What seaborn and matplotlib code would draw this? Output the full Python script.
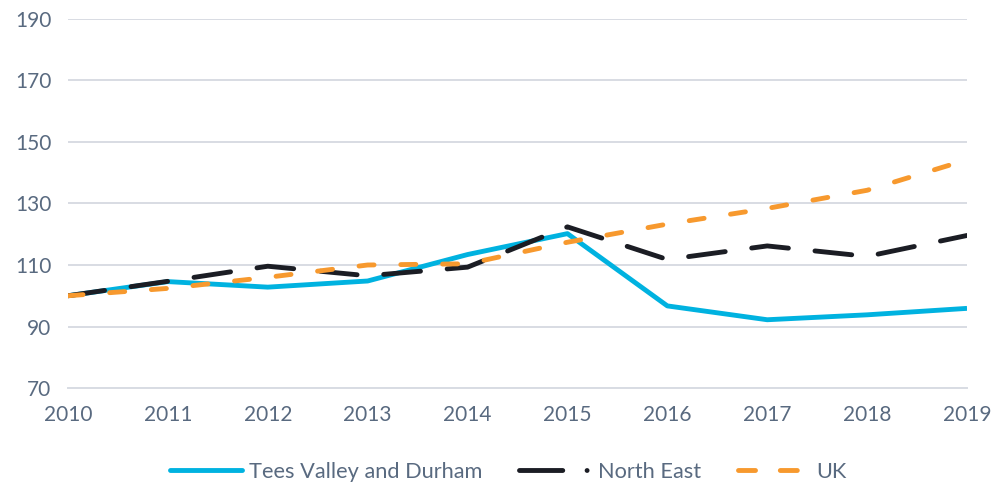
import numpy as np
import pandas as pd
import seaborn as sns
import matplotlib.pyplot as plt
from matplotlib.lines import Line2D

# Daten (Index, 2010 = 100)
YEARS = [2010, 2011, 2012, 2013, 2014, 2015, 2016, 2017, 2018, 2019]
TEES_VALLEY = [100.0, 104.6, 102.8, 104.8, 113.4, 120.2, 96.7, 92.2, 93.8, 95.9]
NORTH_EAST = [100.0, 104.7, 109.6, 106.5, 109.3, 122.4, 111.8, 116.2, 112.8, 119.6]
UK = [100.0, 102.4, 106.0, 110.0, 110.4, 117.4, 123.3, 128.4, 134.3, 144.2]
SERIES = ["Tees Valley and Durham", "North East", "UK"]
Y_TICKS = [70, 90, 110, 130, 150, 170, 190]

COLORS = {"Tees Valley and Durham": "#00B2E0",
          "North East": "#1B1D24",
          "UK": "#F7992E"}
DASHES = {"Tees Valley and Durham": "",
          "North East": (7.6, 5.5),
          "UK": (3.1, 5.5)}
TEXT = "#596A80"
GRID = "#D8DCE3"

df = pd.DataFrame({"Jahr": YEARS * 3,
                   "Wert": TEES_VALLEY + NORTH_EAST + UK,
                   "Serie": [s for s in SERIES for _ in YEARS]})

sns.set_style("white")
plt.rcParams["font.family"] = ["Lato", "DejaVu Sans"]

fig, ax = plt.subplots(figsize=(9.91, 4.86), dpi=100)
fig.subplots_adjust(left=0.0686, right=0.9758, top=0.961, bottom=0.2016)

sns.lineplot(data=df, x="Jahr", y="Wert", hue="Serie", style="Serie",
             palette=COLORS, dashes=DASHES, hue_order=SERIES, style_order=SERIES,
             linewidth=3.5, dash_capstyle="round", solid_capstyle="butt",
             legend=False, ax=ax)

ax.set_xlim(2010, 2019)
ax.set_ylim(70, 190)
ax.set_xticks(YEARS)
ax.set_yticks(Y_TICKS)
ax.set_xlabel("")
ax.set_ylabel("")
ax.yaxis.grid(True, color=GRID, linewidth=1.4)
ax.set_axisbelow(True)
for side in ["top", "right", "left"]:
    ax.spines[side].set_visible(False)
ax.spines["bottom"].set_color(GRID)
ax.spines["bottom"].set_linewidth(1.4)
ax.tick_params(axis="x", colors=GRID, length=7, width=1.4, labelcolor=TEXT,
               labelsize=15, pad=5)
ax.tick_params(axis="y", length=0, labelcolor=TEXT, labelsize=15, pad=12)

# Legende: Linienmuster wie im Original
handles = [
    Line2D([], [], color=COLORS["Tees Valley and Durham"], linewidth=3.5),
    Line2D([], [], color=COLORS["North East"], linewidth=3.5,
           dashes=(8.9, 5.0, 0.01, 5.0), dash_capstyle="round"),
    Line2D([], [], color=COLORS["UK"], linewidth=3.5, dashes=(3.5, 5.1),
           dash_capstyle="round"),
]
fig.legend(handles, SERIES, loc="center", bbox_to_anchor=(0.513, 0.029),
           ncol=3, frameon=False, fontsize=15.7, labelcolor=TEXT,
           handlelength=3.3, handletextpad=0.3, columnspacing=1.7)

fig.savefig("out.png", dpi=100)
